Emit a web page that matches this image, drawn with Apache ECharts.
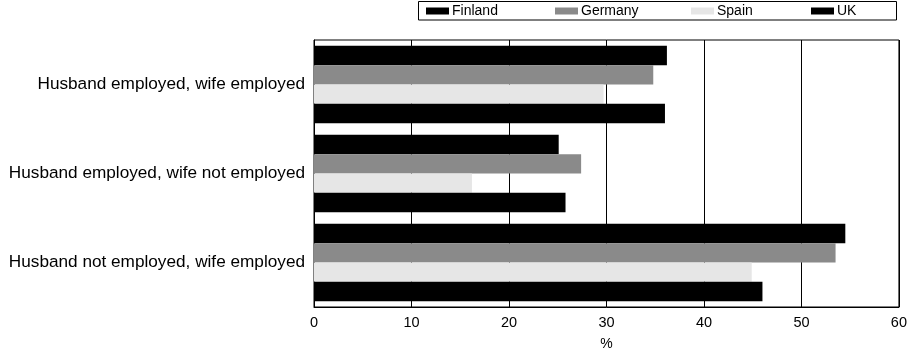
<!DOCTYPE html>
<html><head><meta charset="utf-8">
<script src="https://cdn.jsdelivr.net/npm/echarts@6/dist/echarts.min.js"></script>
<style>html,body{margin:0;padding:0;background:#fff}#c{width:910px;height:356px}</style>
</head><body><div id="c"></div>
<script>
const categories = ["Husband employed, wife employed", "Husband employed, wife not employed", "Husband not employed, wife employed"];
const seriesNames = ["Finland", "Germany", "Spain", "UK"];
const finland = [36.2, 25.1, 54.5];
const germany = [34.8, 27.4, 53.5];
const spain = [29.7, 16.2, 44.9];
const uk = [36.0, 25.8, 46.0];
const xTicks = [0, 10, 20, 30, 40, 50, 60];

const values = [finland, germany, spain, uk];
const colors = ["#000000", "#8a8a8a", "#e6e6e6", "#000000"];
const legendLeft = [426, 555, 691, 811];
const font = "Liberation Sans, Arial, sans-serif";

const chart = echarts.init(document.getElementById('c'));
chart.setOption({
  animation: false,
  backgroundColor: '#fff',
  textStyle: { fontFamily: font, color: '#000' },
  grid: { left: 314, right: 10, top: 40, bottom: 48, show: true, borderColor: '#000', borderWidth: 1 },
  legend: seriesNames.map((n, i) => ({
    left: legendLeft[i], top: 4, itemWidth: 23, itemHeight: 7, padding: 0,
    icon: 'rect',
    textStyle: { fontFamily: font, fontSize: 14, color: '#000', padding: [0, 0, 0, -2] },
    data: [n]
  })),
  graphic: [{ type: 'rect', shape: { x: 418.5, y: 1.5, width: 478, height: 18.5 }, style: { fill: 'none', stroke: '#000', lineWidth: 1 }, z: 100 }],
  xAxis: {
    type: 'value', min: xTicks[0], max: xTicks[xTicks.length - 1], interval: 10,
    name: '%', nameLocation: 'middle', nameGap: 30,
    nameTextStyle: { fontFamily: font, fontSize: 14, color: '#000', verticalAlign: 'top' },
    axisLine: { show: true, lineStyle: { color: '#000', width: 1 } },
    axisTick: { show: false },
    axisLabel: { fontFamily: font, fontSize: 14.5, color: '#000', margin: 8 },
    splitLine: { show: true, lineStyle: { color: '#000', width: 1 } }
  },
  yAxis: {
    type: 'category', data: categories, inverse: true,
    axisLine: { show: true, lineStyle: { color: '#000' } },
    axisTick: { show: false },
    axisLabel: { fontFamily: font, fontSize: 17.2, color: '#000', margin: 9 }
  },
  series: seriesNames.map((n, i) => ({
    name: n, type: 'bar', data: values[i],
    barGap: '0%', barCategoryGap: '13%',
    itemStyle: { color: colors[i] }
  }))
});
</script></body></html>
